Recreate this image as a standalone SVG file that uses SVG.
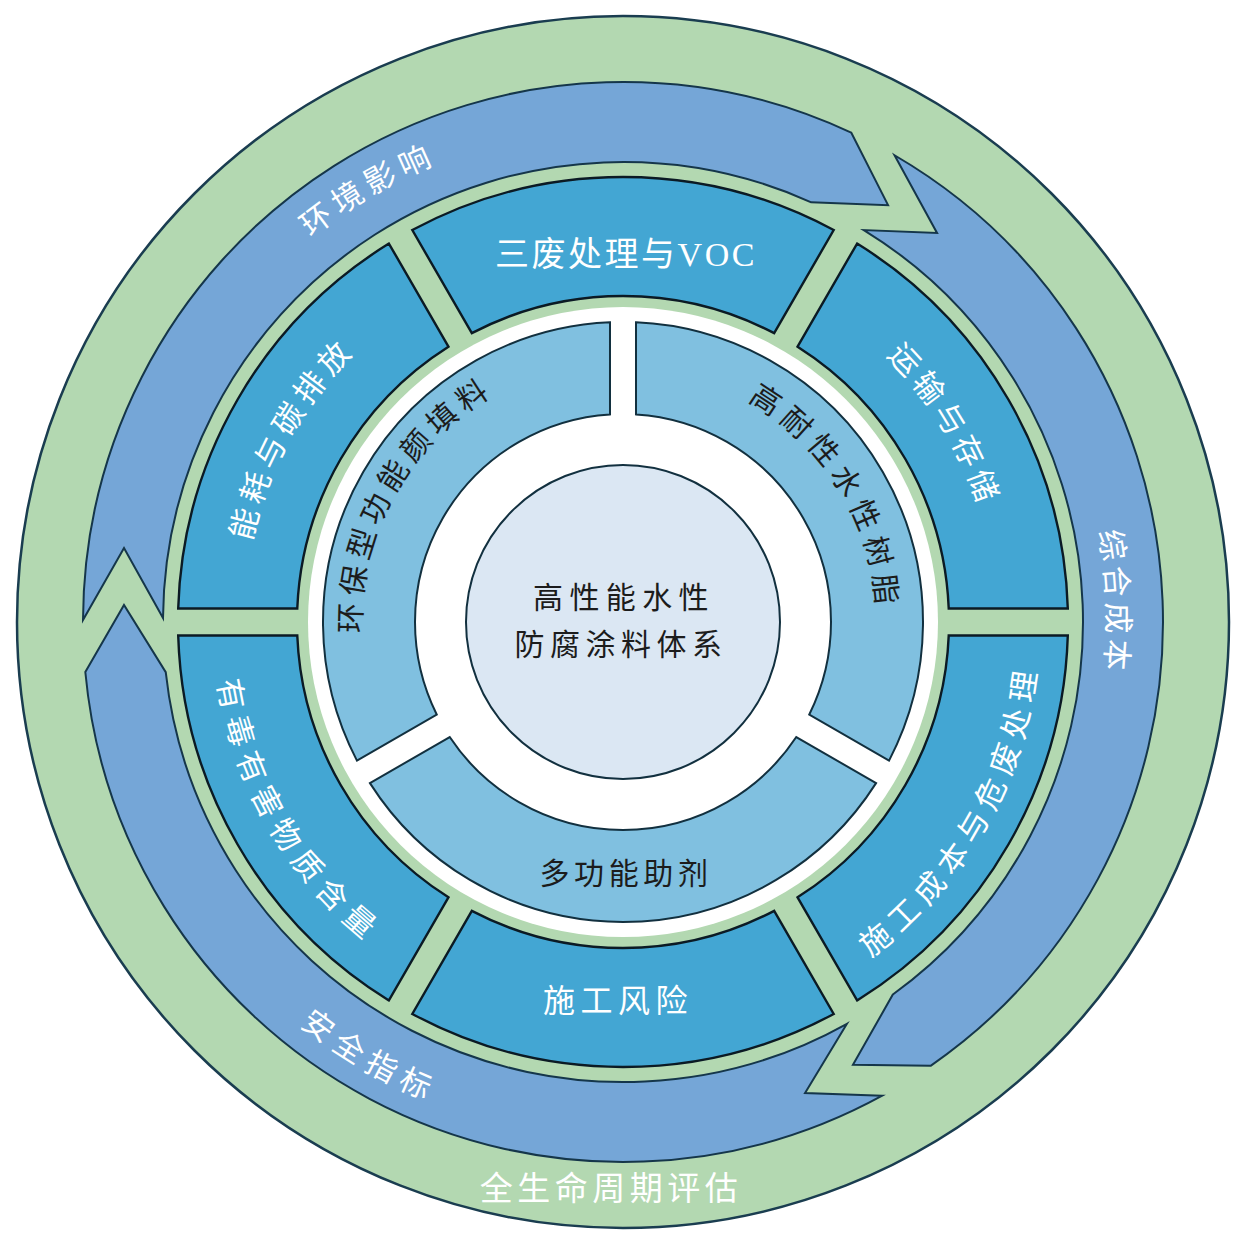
<svg xmlns="http://www.w3.org/2000/svg" width="1252" height="1242" viewBox="0 0 1252 1242">
<defs>
<style>
.lbl { font-family: "Noto Sans CJK SC", "Noto Sans", sans-serif; }
.w { fill: #ffffff; }
.d { fill: #1c1c1c; }
.arrow { fill: #75a6d7; stroke: #15364a; stroke-width: 2; stroke-linejoin: miter; }
.mid { fill: #43a6d3; stroke: #0b1a24; stroke-width: 2.4; stroke-linejoin: miter; }
.inn { fill: #80c0e0; stroke: #12303f; stroke-width: 2; stroke-linejoin: miter; }
</style>
<path id="midSeg" d="M412.30,230.04 A445,445 0 0 1 833.70,230.04 L774.17,333.16 A326,326 0 0 0 471.83,333.16 Z"/>
<path id="innSeg" d="M369.94,460.88 A300,300 0 0 1 876.06,460.88 L796.28,506.94 A208,208 0 0 0 449.72,506.94 Z"/>
<path id="tp-env" d="M156.4,456.8 A495,495 0 0 1 704.7,133.8"/>
<path id="tp-cost" d="M981,296.3 A484,484 0 0 1 1006,918"/>
<path id="tp-safe" d="M136.6,797.1 A517,517 0 0 0 711,1131.5"/>
<path id="tp-trans" d="M741.7,267.3 A374,374 0 0 1 992.9,677.3"/>
<path id="tp-build" d="M766.9,1013.2 A416.8,416.8 0 0 0 1033.2,548.2"/>
<path id="tp-toxic" d="M219.3,551.5 A409.8,409.8 0 0 0 483.5,1007.3"/>
<path id="tp-energy" d="M249.9,695.2 A380.2,380.2 0 0 1 486.1,267.3"/>
<path id="tp-pig" d="M378.4,714.9 A261.6,261.6 0 0 1 574.0,365.0"/>
<path id="tp-resin" d="M660.5,371.2 A253.6,253.6 0 0 1 863.5,702.5"/>
</defs>
<rect x="0" y="0" width="1252" height="1242" fill="#ffffff"/>

<g id="lifecycle-ring">
<circle cx="623" cy="622" r="606" fill="#b3d8b1" stroke="#1a3d50" stroke-width="2.5"/>
<text class="lbl w" x="611" y="1200" font-size="33" letter-spacing="4.5" text-anchor="middle">全生命周期评估</text>
</g>

<g id="connectors">
<g id="arrow-env">
<path class="arrow" d="M83.0,620.0 L124.0,547.95 L163.0,618.0 A460,460 0 0 1 811.26,202.29 L888.06,205.13 L851.2,132.6 A540,540 0 0 0 83.0,620.0 Z"/>
<text class="lbl w" font-size="31" letter-spacing="6.2"><textPath href="#tp-env" startOffset="50%" text-anchor="middle">环境影响</textPath></text>
</g>
<g id="arrow-cost">
<path class="arrow" d="M894.54,155.24 L937.05,232.93 L863.79,230.06 A460,460 0 0 1 892.84,994.54 L852.96,1064.85 L930.62,1065.81 A540,540 0 0 0 894.54,155.24 Z"/>
<text class="lbl w" font-size="31" letter-spacing="4.9"><textPath href="#tp-cost" startOffset="50%" text-anchor="middle">综合成本</textPath></text>
</g>
<g id="arrow-safety">
<path class="arrow" d="M882.25,1095.69 L805.05,1093.04 L846.94,1023.81 A460,460 0 0 1 165.74,672.16 L124.0,605.0 L85.32,671.97 A540,540 0 0 0 882.25,1095.69 Z"/>
<text class="lbl w" font-size="31" letter-spacing="7.5"><textPath href="#tp-safe" startOffset="50%" text-anchor="middle">安全指标</textPath></text>
</g>
</g>

<g id="seg-waste">
<use href="#midSeg" class="mid"/>
<text class="lbl w" x="626" y="266" font-size="34" letter-spacing="2.5" text-anchor="middle">三废处理与<tspan font-family="Liberation Serif, serif">VOC</tspan></text>
</g>
<g id="seg-transport">
<use href="#midSeg" class="mid" transform="rotate(60 623 622)"/>
<text class="lbl w" font-size="31" letter-spacing="5.2"><textPath href="#tp-trans" startOffset="50%" text-anchor="middle">运输与存储</textPath></text>
</g>
<g id="seg-buildcost">
<use href="#midSeg" class="mid" transform="rotate(120 623 622)"/>
<text class="lbl w" font-size="31" letter-spacing="7.5"><textPath href="#tp-build" startOffset="50%" text-anchor="middle">施工成本与危废处理</textPath></text>
</g>
<g id="seg-buildrisk">
<use href="#midSeg" class="mid" transform="rotate(180 623 622)"/>
<text class="lbl w" x="618" y="1012" font-size="32" letter-spacing="5.5" text-anchor="middle">施工风险</text>
</g>
<g id="seg-toxic">
<use href="#midSeg" class="mid" transform="rotate(240 623 622)"/>
<text class="lbl w" font-size="31" letter-spacing="8"><textPath href="#tp-toxic" startOffset="50%" text-anchor="middle">有毒有害物质含量</textPath></text>
</g>
<g id="seg-energy">
<use href="#midSeg" class="mid" transform="rotate(300 623 622)"/>
<text class="lbl w" font-size="31" letter-spacing="5.9"><textPath href="#tp-energy" startOffset="50%" text-anchor="middle">能耗与碳排放</textPath></text>
</g>

<circle id="white-ring" cx="623" cy="622" r="315" fill="#ffffff"/>

<g id="inner-resin">
<use href="#innSeg" class="inn" transform="rotate(60 623 622)"/>
<text class="lbl d" font-size="30" letter-spacing="6.9"><textPath href="#tp-resin" startOffset="50%" text-anchor="middle">高耐性水性树脂</textPath></text>
</g>
<g id="inner-additive">
<use href="#innSeg" class="inn" transform="rotate(180 623 622)"/>
<text class="lbl d" x="626" y="884" font-size="30" letter-spacing="4.6" text-anchor="middle">多功能助剂</text>
</g>
<g id="inner-pigment">
<use href="#innSeg" class="inn" transform="rotate(-60 623 622)"/>
<text class="lbl d" font-size="30" letter-spacing="6.1"><textPath href="#tp-pig" startOffset="50%" text-anchor="middle">环保型功能颜填料</textPath></text>
</g>

<g id="core">
<circle cx="623" cy="622" r="157" fill="#dbe7f3" stroke="#12303f" stroke-width="2"/>
<text class="lbl d" x="624" y="608" font-size="30" letter-spacing="6.4" text-anchor="middle">高性能水性</text>
<text class="lbl d" x="621" y="655" font-size="30" letter-spacing="5.5" text-anchor="middle">防腐涂料体系</text>
</g>
</svg>
